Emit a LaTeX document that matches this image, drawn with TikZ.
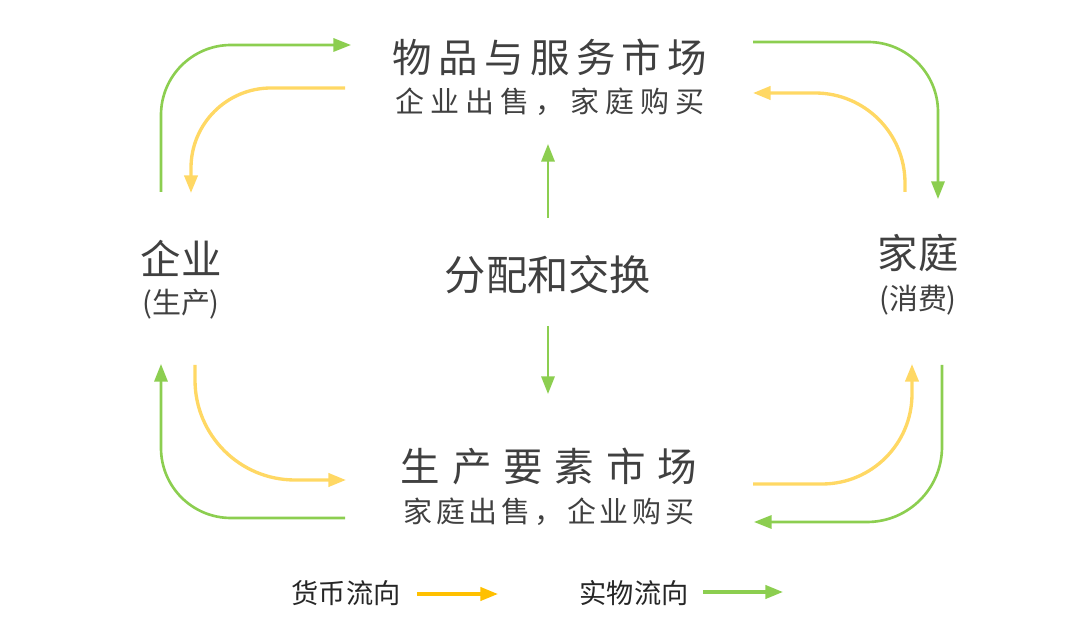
\documentclass[tikz,border=0pt]{standalone}
\usepackage{fontspec}
\newfontfamily\cjk{Noto Sans CJK SC}
\newfontfamily\cjkwide[LetterSpace=16]{Noto Sans CJK SC}
\newfontfamily\cjkwider[LetterSpace=30]{Noto Sans CJK SC}
\newfontfamily\cjksub[LetterSpace=21]{Noto Sans CJK SC}
\newfontfamily\cjksubb[LetterSpace=13]{Noto Sans CJK SC}
\usetikzlibrary{arrows.meta,positioning}
\definecolor{textgray}{RGB}{64,64,64}
\definecolor{flowgreen}{RGB}{140,206,80}
\definecolor{flowyellow}{RGB}{255,216,100}
\definecolor{keyyellow}{RGB}{255,192,0}

\begin{document}
\begin{tikzpicture}[x=0.02cm,y=-0.02cm]
\tikzstyle{every node}=[text=textgray,inner sep=0pt]
\tikzstyle{bigtext}=[font=\cjk\fontsize{23}{26}\selectfont]
\tikzstyle{subtext}=[font=\cjk\fontsize{16.5}{19}\selectfont]
\tikzstyle{keytext}=[font=\cjk\fontsize{15.5}{18}\selectfont,text=black!85]
\tikzstyle{money}=[draw=flowyellow,line width=1.9pt,-{Triangle[length=10pt,width=7.5pt]}]
\tikzstyle{goods}=[draw=flowgreen,line width=1.5pt,-{Triangle[length=10pt,width=7.5pt]}]

\useasboundingbox (0,0) rectangle (1080,631);

% markets
\node[font=\cjkwide\fontsize{22.5}{26}\selectfont] (goodsmkt) at (550,57) {物品与服务市场};
\node[font=\cjksub\fontsize{16.5}{19}\selectfont,below=7pt of goodsmkt] (goodssub) {企业出售，家庭购买};
\node[font=\cjkwider\fontsize{22.5}{26}\selectfont] (factormkt) at (549,466) {生产要素市场};
\node[font=\cjksubb\fontsize{16.5}{19}\selectfont,below=7pt of factormkt] (factorsub) {家庭出售，企业购买};

% actors
\node[bigtext] (firm) at (181,258) {企业};
\node[subtext,below=7pt of firm] (firmsub) {(生产)};
\node[bigtext] (home) at (918,253) {家庭};
\node[subtext,below=7pt of home] (homesub) {(消费)};
\node[font=\cjk\fontsize{23.5}{26}\selectfont] (dist) at (548,275) {分配和交换};

% free ends
\coordinate (tlg) at (161,192);  \coordinate (tlgend) at (351,45);
\coordinate (tly) at (345,88);   \coordinate (tlyend) at (191,193);
\coordinate (trg) at (753,42);   \coordinate (trgend) at (938,199);
\coordinate (try) at (905,192);  \coordinate (tryend) at (753,93);
\coordinate (blg) at (345,518);  \coordinate (blgend) at (161,364);
\coordinate (bly) at (195,365);  \coordinate (blyend) at (346,480);
\coordinate (bry) at (753,484);  \coordinate (bryend) at (912,364);
\coordinate (brg) at (942,365);  \coordinate (brgend) at (754,522);
\coordinate (up) at (548,218);   \coordinate (upend) at (548,144);
\coordinate (down) at (548,326); \coordinate (downend) at (548,394);

\draw[goods,rounded corners=1.4cm] (tlg) |- (tlgend);
\draw[money,rounded corners=1.6cm] (tly) -| (tlyend);
\draw[goods,rounded corners=1.4cm] (trg) -| (trgend);
\draw[money,rounded corners=1.8cm] (try) |- (tryend);
\draw[goods,rounded corners=1.4cm] (blg) -| (blgend);
\draw[money,rounded corners=2cm] (bly) |- (blyend);
\draw[money,rounded corners=1.8cm] (bry) -| (bryend);
\draw[goods,rounded corners=1.5cm] (brg) |- (brgend);
\draw[goods] (up) -- (upend);
\draw[goods] (down) -- (downend);

% key
\node[keytext] (moneykey) at (346,593) {货币流向};
\node[keytext] (goodskey) at (634,593) {实物流向};
\coordinate (moneyline) at (417,594); \coordinate (moneylineend) at (498,594);
\coordinate (goodsline) at (703,592); \coordinate (goodslineend) at (783,592);
\draw[money,draw=keyyellow] (moneyline) -- (moneylineend);
\draw[goods,line width=1.9pt] (goodsline) -- (goodslineend);
\end{tikzpicture}
\end{document}
